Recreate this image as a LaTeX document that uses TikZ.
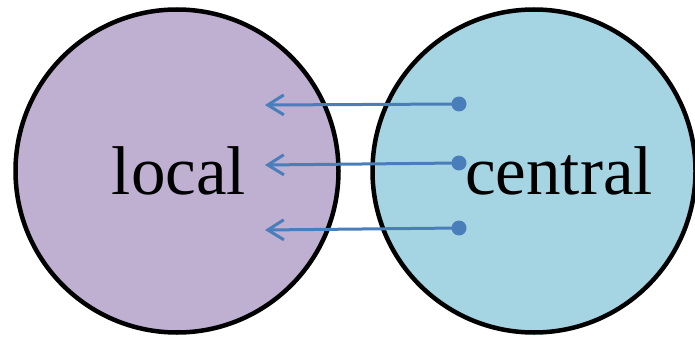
\documentclass[tikz,border=0pt]{standalone}
\usepackage{fontspec}
\setmainfont{Liberation Serif}
\usetikzlibrary{arrows.meta}
\definecolor{localfill}{RGB}{191,176,210}
\definecolor{centralfill}{RGB}{165,213,227}
\definecolor{linkblue}{RGB}{74,126,187}

\begin{document}
\begin{tikzpicture}
            [x=1pt, y=1pt,
            set/.style={circle, draw=black, line width=4.5pt, minimum size=323pt, inner sep=0pt},
            setname/.style={font=\fontsize{69}{69}\selectfont, inner sep=0pt},
            dot/.style={circle, fill=linkblue, minimum size=15pt, inner sep=0pt},
            link/.style={draw=linkblue, line width=3pt, -{Straight Barb[length=16pt, width=20pt, line width=3pt]}}]
            \useasboundingbox (0,0) rectangle (695,343);
            \node [set, fill=localfill] (local) at (177,172) {};
            \node [set, fill=centralfill] (central) at (534,172) {};
            \node [setname] (localname) at (179,172) {local};
            \node [setname] (centralname) at (559,172) {central};
            % three links, central to local
            \node [dot] (d1) at (459,239) {};
            \node [dot] (d2) at (459,180) {};
            \node [dot] (d3) at (459,115) {};
            \coordinate (a1) at (265,238);
            \coordinate (a2) at (265,178);
            \coordinate (a3) at (265,113);
            \draw [link] (d1.center) -- (a1);
            \draw [link] (d2.center) -- (a2);
            \draw [link] (d3.center) -- (a3);
\end{tikzpicture}
\end{document}
